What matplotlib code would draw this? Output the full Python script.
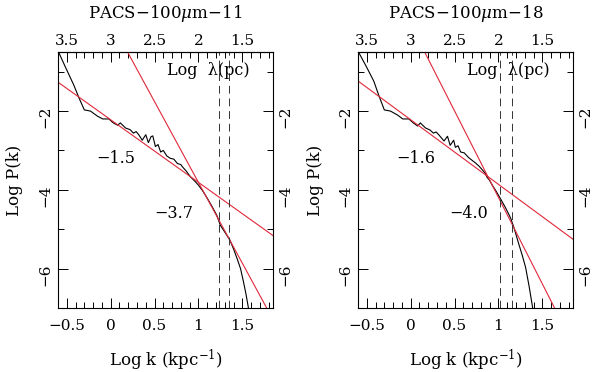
import numpy as np
import matplotlib
matplotlib.use("Agg")
import matplotlib.pyplot as plt
from matplotlib.ticker import MultipleLocator, FuncFormatter

plt.rcParams['font.family'] = ['DejaVu Serif']
plt.rcParams['mathtext.fontset'] = 'dejavuserif'

# panel titles
titles = ["PACS\u2212100$\\mu$m\u221211", "PACS\u2212100$\\mu$m\u221218"]

# power spectrum, log k (kpc^-1) vs log P(k)
logk_11 = [-0.59, -0.51, -0.42, -0.36, -0.30, -0.23, -0.15, -0.09, -0.02, 0.03,
           0.08, 0.11, 0.17, 0.22, 0.26, 0.29, 0.32, 0.36, 0.40, 0.43,
           0.46, 0.48, 0.51, 0.54, 0.57, 0.60, 0.64, 0.68, 0.72, 0.76,
           0.80, 0.82, 0.86, 0.91, 0.95, 1.00, 1.05, 1.10, 1.15, 1.21,
           1.25, 1.30, 1.36, 1.40, 1.44, 1.48, 1.51, 1.54, 1.57]
logp_11 = [-0.52, -0.91, -1.34, -1.67, -1.97, -2.00, -2.13, -2.20, -2.20, -2.30,
           -2.36, -2.30, -2.43, -2.47, -2.56, -2.52, -2.60, -2.74, -2.60, -2.80,
           -2.65, -2.63, -2.90, -2.85, -3.04, -3.00, -3.14, -3.20, -3.22, -3.33,
           -3.36, -3.42, -3.52, -3.67, -3.76, -3.88, -4.03, -4.21, -4.40, -4.65,
           -4.90, -5.07, -5.28, -5.50, -5.74, -6.00, -6.30, -6.62, -7.00]

logk_18 = [-0.59, -0.51, -0.42, -0.36, -0.30, -0.23, -0.15, -0.09, -0.02, 0.03,
           0.08, 0.11, 0.17, 0.22, 0.26, 0.29, 0.32, 0.38, 0.42, 0.45,
           0.49, 0.51, 0.54, 0.57, 0.61, 0.66, 0.70, 0.74, 0.78, 0.82,
           0.85, 0.87, 0.90, 0.93, 0.97, 1.02, 1.08, 1.14, 1.18, 1.23,
           1.27, 1.31, 1.35, 1.39]
logp_18 = [-0.52, -0.85, -1.24, -1.62, -1.97, -2.00, -2.10, -2.20, -2.20, -2.30,
           -2.38, -2.30, -2.43, -2.48, -2.56, -2.53, -2.60, -2.76, -2.64, -2.87,
           -2.74, -2.92, -2.88, -3.04, -3.06, -3.18, -3.25, -3.32, -3.40, -3.50,
           -3.58, -3.68, -3.76, -3.88, -4.02, -4.21, -4.45, -4.72, -4.98, -5.36,
           -5.65, -5.97, -6.45, -6.99]

# power law fits: (slope, value at log k = 1), shallow and steep
fits_11 = [(-1.59, -3.81), (-4.10, -3.81)]
fits_18 = [(-1.64, -3.86), (-4.39, -4.19)]
slope_labels_11 = ["\u22121.5", "\u22123.7"]
slope_labels_18 = ["\u22121.6", "\u22124.0"]

# scale range (dashed lines)
breaks_11 = [1.24, 1.35]
breaks_18 = [1.02, 1.15]

panels = [(logk_11, logp_11, fits_11, slope_labels_11, breaks_11),
          (logk_18, logp_18, fits_18, slope_labels_18, breaks_18)]

fmt = FuncFormatter(lambda v, p: ('%g' % round(v, 2)).replace('-', '\u2212'))

fig = plt.figure(figsize=(6, 3.72), dpi=100)
lefts = [58 / 600, 358 / 600]

for i, (lk, lp, fits, labs, brk) in enumerate(panels):
    ax = fig.add_axes([lefts[i], 1 - 308 / 372, 215 / 600, 256 / 372])
    ax.plot(lk, lp, color='black', lw=0.8)
    xx = np.array([-0.6, 1.85])
    for slope, y1 in fits:
        ax.plot(xx, y1 + slope * (xx - 1.0), color='#e0283a', lw=0.8)
    for b in brk:
        ax.axvline(b, color='#333333', lw=0.7, dashes=(8, 5))
    ax.text(0.06, -3.2, labs[0], fontsize=11.5, ha='center', va='center')
    ax.text(0.72 if i == 0 else 0.66, -4.6, labs[1], fontsize=11.5, ha='center', va='center')
    ax.text(1.11, -0.96, "Log  \u03bb(pc)", fontsize=11.5, ha='center', va='center')

    ax.set_xlim(-0.6, 1.85)
    ax.set_ylim(-7.0, -0.5)
    ax.xaxis.set_major_locator(MultipleLocator(0.5))
    ax.xaxis.set_minor_locator(MultipleLocator(0.1))
    ax.yaxis.set_major_locator(MultipleLocator(2))
    ax.yaxis.set_minor_locator(MultipleLocator(1))
    ax.xaxis.set_major_formatter(fmt)
    ax.yaxis.set_major_formatter(fmt)
    ax.tick_params(which='both', direction='in', top=False, right=True, labelsize=11)
    ax.tick_params(axis='y', labelright=True, labelrotation=90, pad=4)
    ax.tick_params(axis='x', pad=8)
    ax.tick_params(which='major', length=7, width=0.7)
    ax.tick_params(which='minor', length=4, width=0.7)
    for s in ax.spines.values():
        s.set_linewidth(0.8)

    # wavelength axis on top: log lambda(pc) = 3 - log k
    sec = ax.secondary_xaxis('top', functions=(lambda x: 3 - x, lambda x: 3 - x))
    sec.xaxis.set_major_locator(MultipleLocator(0.5))
    sec.xaxis.set_minor_locator(MultipleLocator(0.1))
    sec.xaxis.set_major_formatter(fmt)
    sec.tick_params(which='both', direction='in', labelsize=11, pad=3)
    sec.tick_params(which='major', length=7, width=0.7)
    sec.tick_params(which='minor', length=4, width=0.7)

    cx = lefts[i] + 107.5 / 600
    fig.text(cx, 1 - 13 / 372, titles[i], fontsize=12, ha='center', va='center')
    fig.text(cx, 1 - 360 / 372, "Log k (kpc$^{-1}$)", fontsize=12, ha='center', va='center')
    fig.text(lefts[i] - 43 / 600, 1 - 180 / 372, "Log P(k)", fontsize=12,
             ha='center', va='center', rotation=90)

fig.savefig("out.png", dpi=100)
